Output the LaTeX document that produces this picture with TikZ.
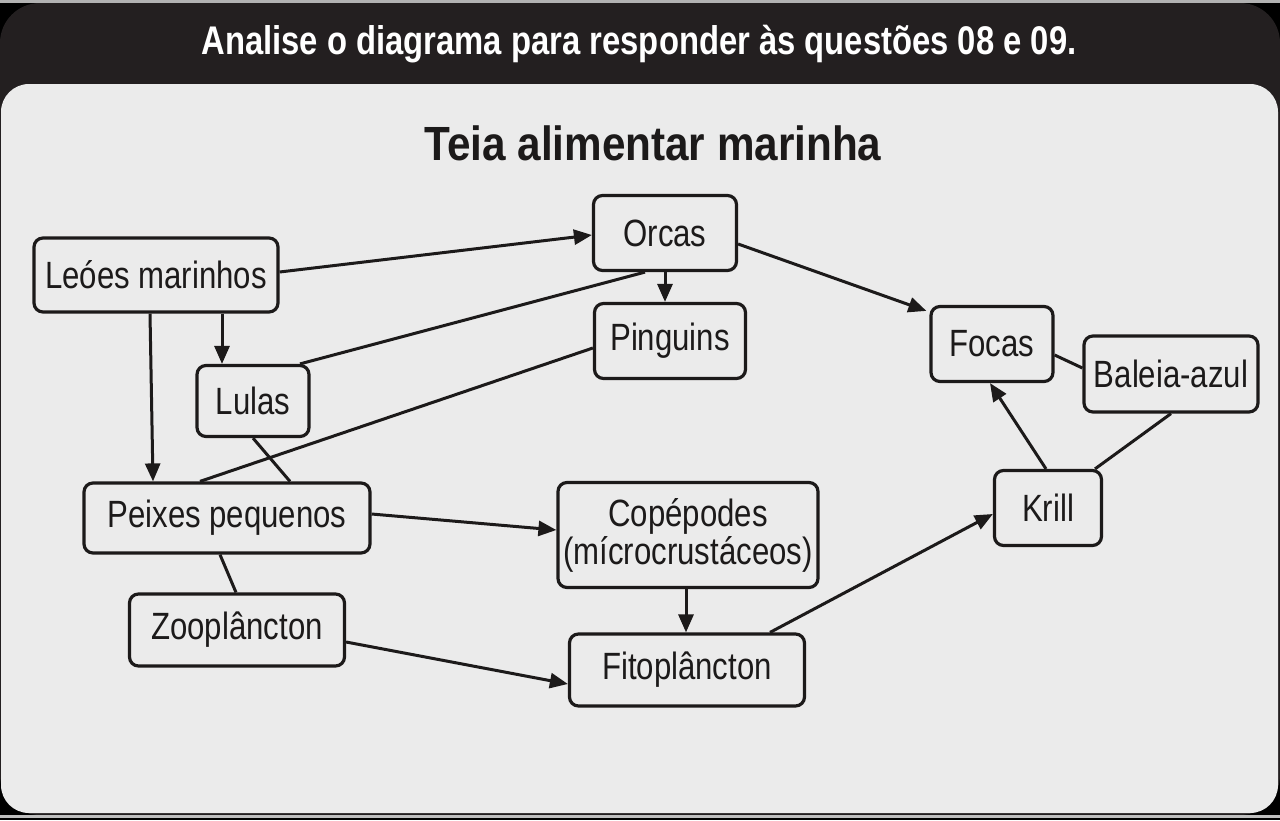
\documentclass[tikz,border=0pt]{standalone}
\usepackage{fontspec}
\setmainfont[FakeStretch=0.82]{Liberation Sans}
\newfontfamily\titlefont[FakeStretch=0.88]{Liberation Sans}
\usetikzlibrary{arrows.meta,calc}
\definecolor{hdr}{HTML}{231F20}
\definecolor{panel}{HTML}{EBEBEB}
\definecolor{ink}{HTML}{1C1A1A}
\tikzset{
  box/.style={draw=ink, line width=3.2pt, rounded corners=9pt, fill=panel, text=ink,
    align=center, inner sep=0pt, font=\fontsize{38}{42}\selectfont},
  link/.style={draw=ink, line width=3pt},
  arr/.style={link, -{Triangle[length=18pt,width=15pt]}}
}
\begin{document}
\begin{tikzpicture}[x=1pt,y=-1pt]
\useasboundingbox (0,0) rectangle (1280,820);
\fill[black] (0,0) rectangle (1280,820);
\fill[gray!60] (0,0) rectangle (1280,3);
\fill[hdr, rounded corners=40pt] (0,3) rectangle (1280,815);
\fill[gray!50] (0,815) rectangle (1280,818);
\fill[panel, rounded corners=28pt] (1,84) rectangle (1278,813);
\node[text=white, font=\fontsize{40}{44}\bfseries\selectfont] (hd) at (639,44) {Analise o diagrama para responder às questões 08 e 09.};
\node[text=ink, font=\titlefont\fontsize{48}{52}\bfseries\selectfont] (tt) at (653,143) {Teia alimentar marinha};

\node[box, minimum width=244pt, minimum height=74pt] (leo) at (156,275) {Leóes marinhos};
\node[box, minimum width=143pt, minimum height=75pt] (orc) at (665,233) {Orcas};
\node[box, minimum width=151pt, minimum height=75pt] (pin) at (670,341) {Pinguins};
\node[box, minimum width=112pt, minimum height=71pt] (lul) at (253,401) {Lulas};
\node[box, minimum width=286pt, minimum height=70pt] (pei) at (227,518) {Peixes pequenos};
\node[box, minimum width=260pt, minimum height=105pt] (cop) at (688,535) {Copépodes\\[-4pt](mícrocrustáceos)};
\node[box, minimum width=215pt, minimum height=72pt] (zoo) at (237,630) {Zooplâncton};
\node[box, minimum width=235pt, minimum height=72pt] (fit) at (687,670) {Fitoplâncton};
\node[box, minimum width=122pt, minimum height=75pt] (foc) at (992,344) {Focas};
\node[box, minimum width=174pt, minimum height=76pt] (bal) at (1171,374) {Baleia-azul};
\node[box, minimum width=107pt, minimum height=75pt] (kri) at (1048,508) {Krill};

% connectors
\draw[arr] (leo.east |- 0,272) -- (orc.west |- 0,235);
\draw[arr] (orc.south -| 665,0) -- (pin.north -| 665,0);
\draw[link] (orc.south -| 645,0) -- (lul.north -| 300,0);
\draw[arr] (orc.east |- 0,244) -- ($(foc.north west)+(-3,6)$);
\draw[link] (pin.west |- 0,348) -- (pei.north -| 200,0);
\draw[arr] (leo.south -| 222,0) -- (lul.north -| 222,0);
\draw[arr] (leo.south -| 150,0) -- (pei.north -| 153,0);
\draw[link] (lul.south) -- (pei.north -| 290,0);
\draw[arr] (pei.east |- 0,514) -- (cop.west |- 0,530);
\draw[link] (pei.south -| 220,0) -- (zoo.north -| 236,0);
\draw[arr] (zoo.east |- 0,642) -- (fit.west |- 0,684);
\draw[arr] (cop.south -| 686,0) -- (fit.north -| 686,0);
\draw[arr] (fit.north -| 770,0) -- (kri.west |- 0,514);
\draw[arr] (kri.north -| 1046,0) -- (foc.south -| 990,0);
\draw[link] (kri.north -| 1095,0) -- (bal.south);
\draw[link] (foc.east |- 0,355) -- (bal.west |- 0,368);
\end{tikzpicture}
\end{document}
